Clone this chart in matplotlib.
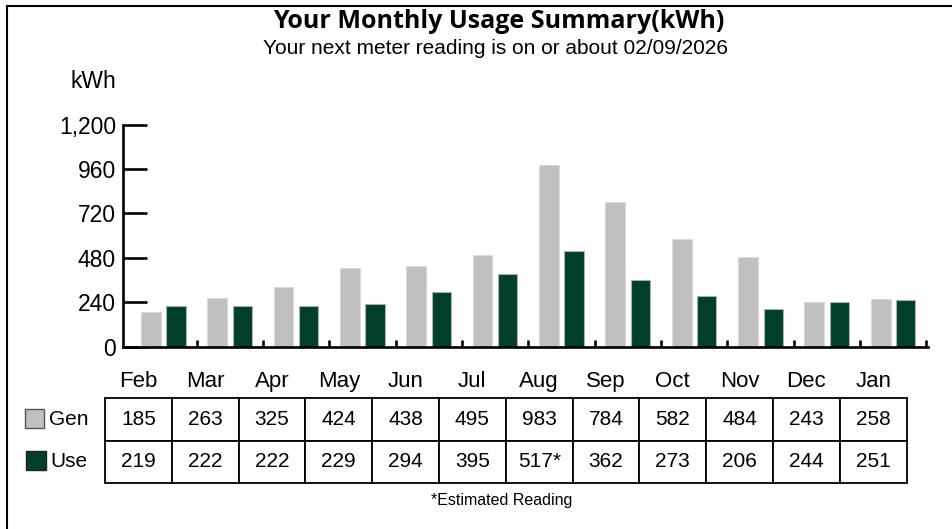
import matplotlib
matplotlib.use("Agg")
import matplotlib.pyplot as plt
from matplotlib.patches import Rectangle
from matplotlib.lines import Line2D

plt.rcParams['font.family'] = ['Liberation Sans', 'DejaVu Sans']

# ---- data ----
months = ["Feb", "Mar", "Apr", "May", "Jun", "Jul", "Aug", "Sep", "Oct", "Nov", "Dec", "Jan"]
gen = [185, 263, 325, 424, 438, 495, 983, 784, 582, 484, 243, 258]
use = [219, 222, 222, 229, 294, 395, 517, 362, 273, 206, 244, 251]
use_estimated = [False, False, False, False, False, False, True, False, False, False, False, False]
yticks = [0, 240, 480, 720, 960, 1200]
title = "Your Monthly Usage Summary(kWh)"
subtitle = "Your next meter reading is on or about 02/09/2026"
footnote = "*Estimated Reading"

GEN_COLOR = "#c0c0c0"
USE_COLOR = "#013f2b"

W, H = 953, 529
fig = plt.figure(figsize=(W / 100, H / 100), dpi=100)


def fx(x):
    return x / W


def fy(y):
    return 1 - y / H


# ---- bar chart axes ----
ax = fig.add_axes([fx(123), fy(346.7), 805 / W, 222 / H])
n = len(months)
xs = list(range(n))
ax.bar([x - 0.19 for x in xs], gen, width=0.30, color=GEN_COLOR,
       edgecolor="#dadada", linewidth=0.8, zorder=2)
ax.bar([x + 0.19 for x in xs], use, width=0.29, color=USE_COLOR,
       edgecolor="#a8b0ac", linewidth=0.8, zorder=2)

ax.set_xlim(-0.609, 11.524)
ax.set_ylim(0, 1200)
for s in ("top", "right"):
    ax.spines[s].set_visible(False)
for s in ("left", "bottom"):
    ax.spines[s].set_linewidth(1.9)
    ax.spines[s].set_capstyle("projecting")

ax.set_yticks(yticks)
ax.set_yticklabels([f"{v:,}" for v in yticks])
ax.tick_params(axis="y", direction="in", length=17.3, width=1.9, pad=5,
               labelsize=16.5)
ax.set_xticks([x + 0.5 for x in xs])
ax.set_xticklabels([])
ax.tick_params(axis="x", direction="in", length=5, width=1.9)

# ---- data table ----
tax = fig.add_axes([fx(105), fy(483.3), 801.6 / W, 85.6 / H])
tax.axis("off")
gen_text = [str(v) for v in gen]
use_text = [f"{v}*" if e else str(v) for v, e in zip(use, use_estimated)]
tbl = tax.table(cellText=[gen_text, use_text], bbox=[0, 0, 1, 1], cellLoc="center")
tbl.auto_set_font_size(False)
tbl.set_fontsize(15)
for cell in tbl.get_celld().values():
    cell.set_linewidth(1.3)
    cell.set_edgecolor("black")

for i, m in enumerate(months):
    tax.text((i + 0.5) / n, 1.195, m, transform=tax.transAxes, ha="center",
             va="center", fontsize=16)

# legend-like row labels
fig.add_artist(Rectangle((fx(25), fy(428)), 19.3 / W, 19 / H, transform=fig.transFigure,
                         facecolor=GEN_COLOR, edgecolor="#555555", linewidth=1.0))
fig.add_artist(Rectangle((fx(26), fy(470)), 19.7 / W, 19 / H, transform=fig.transFigure,
                         facecolor=USE_COLOR, edgecolor="#222222", linewidth=1.0))
fig.text(fx(49.5), fy(419.5), "Gen", ha="left", va="center", fontsize=15)
fig.text(fx(50.5), fy(461.5), "Use", ha="left", va="center", fontsize=15)

# ---- titles ----
fig.text(fx(499), fy(22), title, ha="center", va="center", fontsize=18,
         fontweight="bold", family=["Open Sans", "DejaVu Sans"])
fig.text(fx(496), fy(48), subtitle, ha="center", va="center", fontsize=15)
fig.text(fx(93), fy(81.5), "kWh", ha="center", va="center", fontsize=16.5)
fig.text(fx(502), fy(500), footnote, ha="center", va="center", fontsize=11.5)

# ---- frame ----
fig.add_artist(Line2D([fx(7), fx(7)], [fy(6), 0], color="black", lw=1.5,
                      transform=fig.transFigure))
fig.add_artist(Line2D([fx(7), 1], [fy(6), fy(6)], color="black", lw=1.5,
                      transform=fig.transFigure))

fig.savefig("out.png", dpi=100)
